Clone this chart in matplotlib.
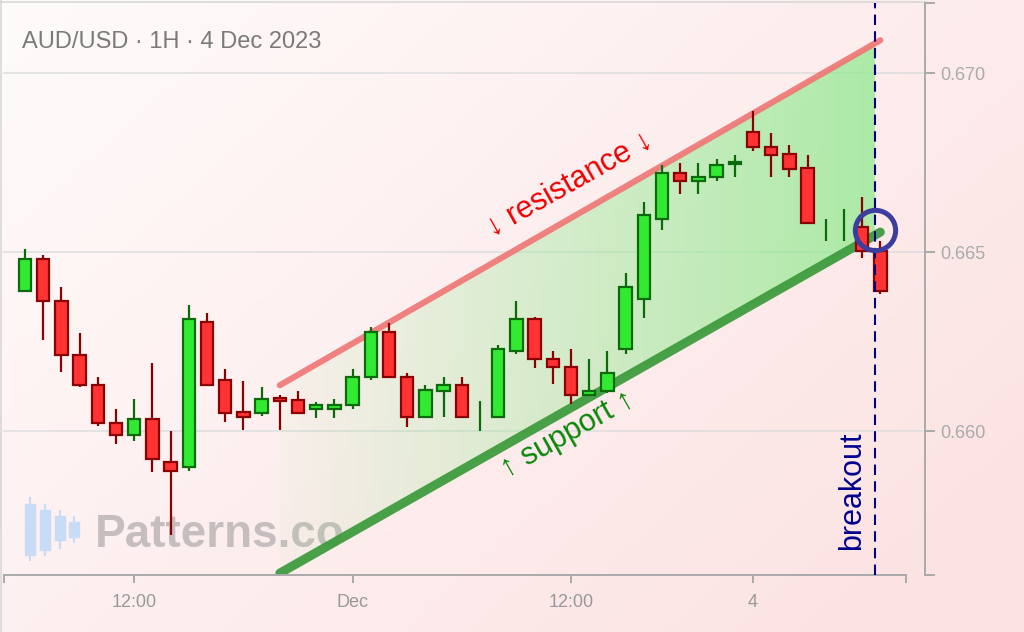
import numpy as np
import matplotlib
matplotlib.use("Agg")
import matplotlib.pyplot as plt
from matplotlib.patches import Rectangle, Polygon

plt.rcParams['font.family'] = ['Liberation Sans', 'DejaVu Sans']

# AUD/USD 1H candles
opens = [0.66391, 0.66480, 0.66363, 0.66212, 0.66128, 0.66022, 0.65989, 0.66034,
         0.65913, 0.65899, 0.66304, 0.66142, 0.66053, 0.66050, 0.66092, 0.66087,
         0.66061, 0.66061, 0.66073, 0.66151, 0.66277, 0.66151, 0.66039, 0.66112,
         0.66128, 0.66040, 0.66039, 0.66223, 0.66313, 0.66201, 0.66179, 0.66101,
         0.66112, 0.66229, 0.66369, 0.66592, 0.66721, 0.66698, 0.66709, 0.66746,
         0.66835, 0.66793, 0.66774, 0.66735, 0.66560, 0.66575, 0.66570, 0.66503]
highs = [0.66508, 0.66492, 0.66402, 0.66274, 0.66151, 0.66061, 0.66089, 0.66190,
         0.66000, 0.66352, 0.66330, 0.66173, 0.66140, 0.66123, 0.66101, 0.66112,
         0.66081, 0.66089, 0.66173, 0.66291, 0.66302, 0.66162, 0.66128, 0.66151,
         0.66151, 0.66084, 0.66240, 0.66363, 0.66318, 0.66223, 0.66229, 0.66201,
         0.66223, 0.66441, 0.66640, 0.66743, 0.66749, 0.66749, 0.66760, 0.66771,
         0.66894, 0.66832, 0.66799, 0.66771, 0.66592, 0.66620, 0.66654, 0.66531]
lows = [0.66391, 0.66254, 0.66165, 0.66123, 0.66014, 0.65964, 0.65972, 0.65885,
        0.65709, 0.65888, 0.66126, 0.66025, 0.66003, 0.66042, 0.66003, 0.66050,
        0.66036, 0.66036, 0.66061, 0.66142, 0.66151, 0.66011, 0.66036, 0.66039,
        0.66039, 0.66000, 0.66039, 0.66215, 0.66176, 0.66131, 0.66075, 0.66101,
        0.66106, 0.66215, 0.66316, 0.66561, 0.66662, 0.66662, 0.66698, 0.66709,
        0.66782, 0.66709, 0.66709, 0.66581, 0.66531, 0.66531, 0.66483, 0.66383]
closes = [0.66480, 0.66363, 0.66212, 0.66128, 0.66022, 0.65989, 0.66034, 0.65922,
          0.65888, 0.66313, 0.66128, 0.66050, 0.66039, 0.66089, 0.66084, 0.66050,
          0.66073, 0.66073, 0.66151, 0.66277, 0.66151, 0.66039, 0.66115, 0.66128,
          0.66039, 0.66040, 0.66229, 0.66313, 0.66201, 0.66179, 0.66101, 0.66112,
          0.66162, 0.66402, 0.66603, 0.66721, 0.66698, 0.66709, 0.66743, 0.66751,
          0.66793, 0.66771, 0.66732, 0.66581, 0.66560, 0.66575, 0.66503, 0.66391]

x_ticks = [6, 18, 30, 40]
x_labels = ['12:00', 'Dec', '12:00', '4']
y_ticks = [0.660, 0.665, 0.670]

# channel lines (start/end index, price)
res_x = [14, 47]
res_y = [0.66128, 0.67092]
sup_x = [14, 47]
sup_y = [0.65603, 0.66556]
breakout_x = 46.7
breakout_y = 0.66561

xlim = (-1.154, 48.41)
ylim = (0.65598, 0.67196)

fig = plt.figure(figsize=(10.24, 6.32), dpi=100)

# background layer (pixel coords)
bg = fig.add_axes([0, 0, 1, 1], zorder=0)
bg.set_xlim(0, 1024)
bg.set_ylim(632, 0)
bg.axis('off')
gx, gy = np.meshgrid(np.linspace(0, 1, 200), np.linspace(0, 1, 120))
t = np.clip(0.65 * gx + 0.45 * gy, 0, 1)[..., None]
c0 = np.array([1.0, 0.985, 0.985])
c1 = np.array([0.99, 0.89, 0.89])
bg.imshow(c0 * (1 - t) + c1 * t, extent=(0, 1024, 632, 0), aspect='auto')
bg.plot([0, 926], [2, 2], color='#d8d8d8', lw=1.2)
bg.plot([1, 1], [0, 632], color='#d8d8d8', lw=1.2)
# watermark
for cx, wt, wb, bt, bb in [(30, 498, 560, 504, 555), (45, 505, 555, 510, 550),
                           (60, 511, 548, 516, 540), (74, 517, 542, 522, 537)]:
    bg.plot([cx, cx], [wt, wb], color='#c9dcf5', lw=1.5)
    bg.add_patch(Rectangle((cx - 5, bt), 10, bb - bt, color='#c9dcf5'))
bg.text(95, 535, 'Patterns.co', fontsize=33, fontweight='bold', color='#c6bebe',
        va='center', ha='left')
bg.text(22, 42, 'AUD/USD · 1H · 4 Dec 2023', fontsize=17, color='#7a7a7a',
        va='center', ha='left')

ax = fig.add_axes([4 / 1024, 57 / 632, 902 / 1024, 572 / 632], zorder=1)
ax.patch.set_alpha(0)

# channel fill with gradient
def res_at(x):
    return res_y[0] + (x - res_x[0]) * (res_y[1] - res_y[0]) / (res_x[1] - res_x[0])

def sup_at(x):
    return sup_y[0] + (x - sup_x[0]) * (sup_y[1] - sup_y[0]) / (sup_x[1] - sup_x[0])

poly = Polygon([(res_x[0], sup_at(res_x[0])), (breakout_x, sup_at(breakout_x)),
                (breakout_x, res_at(breakout_x)), (res_x[0], res_at(res_x[0]))],
               closed=True, facecolor='none', edgecolor='none')
ax.add_patch(poly)
alpha = np.linspace(0.04, 0.72, 300)
grad = np.zeros((2, 300, 4))
grad[..., 0] = 0.55
grad[..., 1] = 0.92
grad[..., 2] = 0.55
grad[..., 3] = alpha
im = ax.imshow(grad, extent=(res_x[0], breakout_x, ylim[0], ylim[1]),
               aspect='auto', zorder=1, origin='lower')
im.set_clip_path(poly)

ax.plot(res_x, res_y, color='#f07272', alpha=0.88, lw=4.4, solid_capstyle='round', zorder=2)
ax.plot(sup_x, sup_y, color='#3a9a3a', alpha=0.92, lw=6.5, solid_capstyle='round', zorder=2)

# candles
for i in range(len(opens)):
    o, h, l, c = opens[i], highs[i], lows[i], closes[i]
    up = c >= o
    edge = '#0b6b0b' if up else '#8b0000'
    face = '#33ea33' if up else '#ff3333'
    ax.plot([i, i], [l, h], color=edge, lw=1.6, zorder=3, solid_capstyle='butt')
    if abs(c - o) > 1e-7:
        ax.add_patch(Rectangle((i - 0.34, min(o, c)), 0.68, abs(c - o),
                               facecolor=face, edgecolor=edge, lw=1.6, zorder=4))

ax.axvline(breakout_x, color='#000080', lw=1.5, linestyle=(0, (5, 3)), zorder=5)
ax.plot(breakout_x, breakout_y, 'o', ms=29, mfc='none', mec='#3d3d9e', mew=3.6, zorder=6)

ax.text(29.95, 0.66690, '↓ resistance ↓', color='#ee0000', fontsize=22,
        rotation=29.5, ha='center', va='center', rotation_mode='anchor', zorder=5)
ax.text(29.8, 0.65992, '↑ support ↑', color='#0a880a', fontsize=22,
        rotation=29.5, ha='center', va='center', rotation_mode='anchor', zorder=5)
ax.text(45.45, 0.65832, 'breakout', color='#00008b', fontsize=22,
        rotation=90, ha='center', va='center', zorder=5)

for v in y_ticks:
    ax.axhline(v, 0, 1.021, color='#dddddd', lw=1.1, clip_on=False, zorder=0)

ax.set_xlim(*xlim)
ax.set_ylim(*ylim)
for s in ['top', 'left']:
    ax.spines[s].set_visible(False)
for s in ['bottom', 'right']:
    ax.spines[s].set_color('#aaaaaa')
    ax.spines[s].set_linewidth(1.4)
ax.spines['right'].set_position(('outward', 13.7))

ax.yaxis.tick_right()
ax.set_yticks([ylim[0]] + y_ticks + [ylim[1]])
ax.set_yticklabels([''] + ['%.3f' % v for v in y_ticks] + [''])
ax.set_xticks([xlim[0]] + x_ticks + [xlim[1]])
ax.set_xticklabels([''] + x_labels + [''], family=['Liberation Sans Narrow', 'Liberation Sans'])
ax.tick_params(axis='y', length=7, width=1.4, color='#aaaaaa', labelcolor='#aaaaaa',
               labelsize=13, pad=4)
ax.tick_params(axis='x', length=6, width=1.4, color='#aaaaaa', labelcolor='#999999',
               labelsize=13, pad=8)

fig.savefig('out.png', dpi=100)
